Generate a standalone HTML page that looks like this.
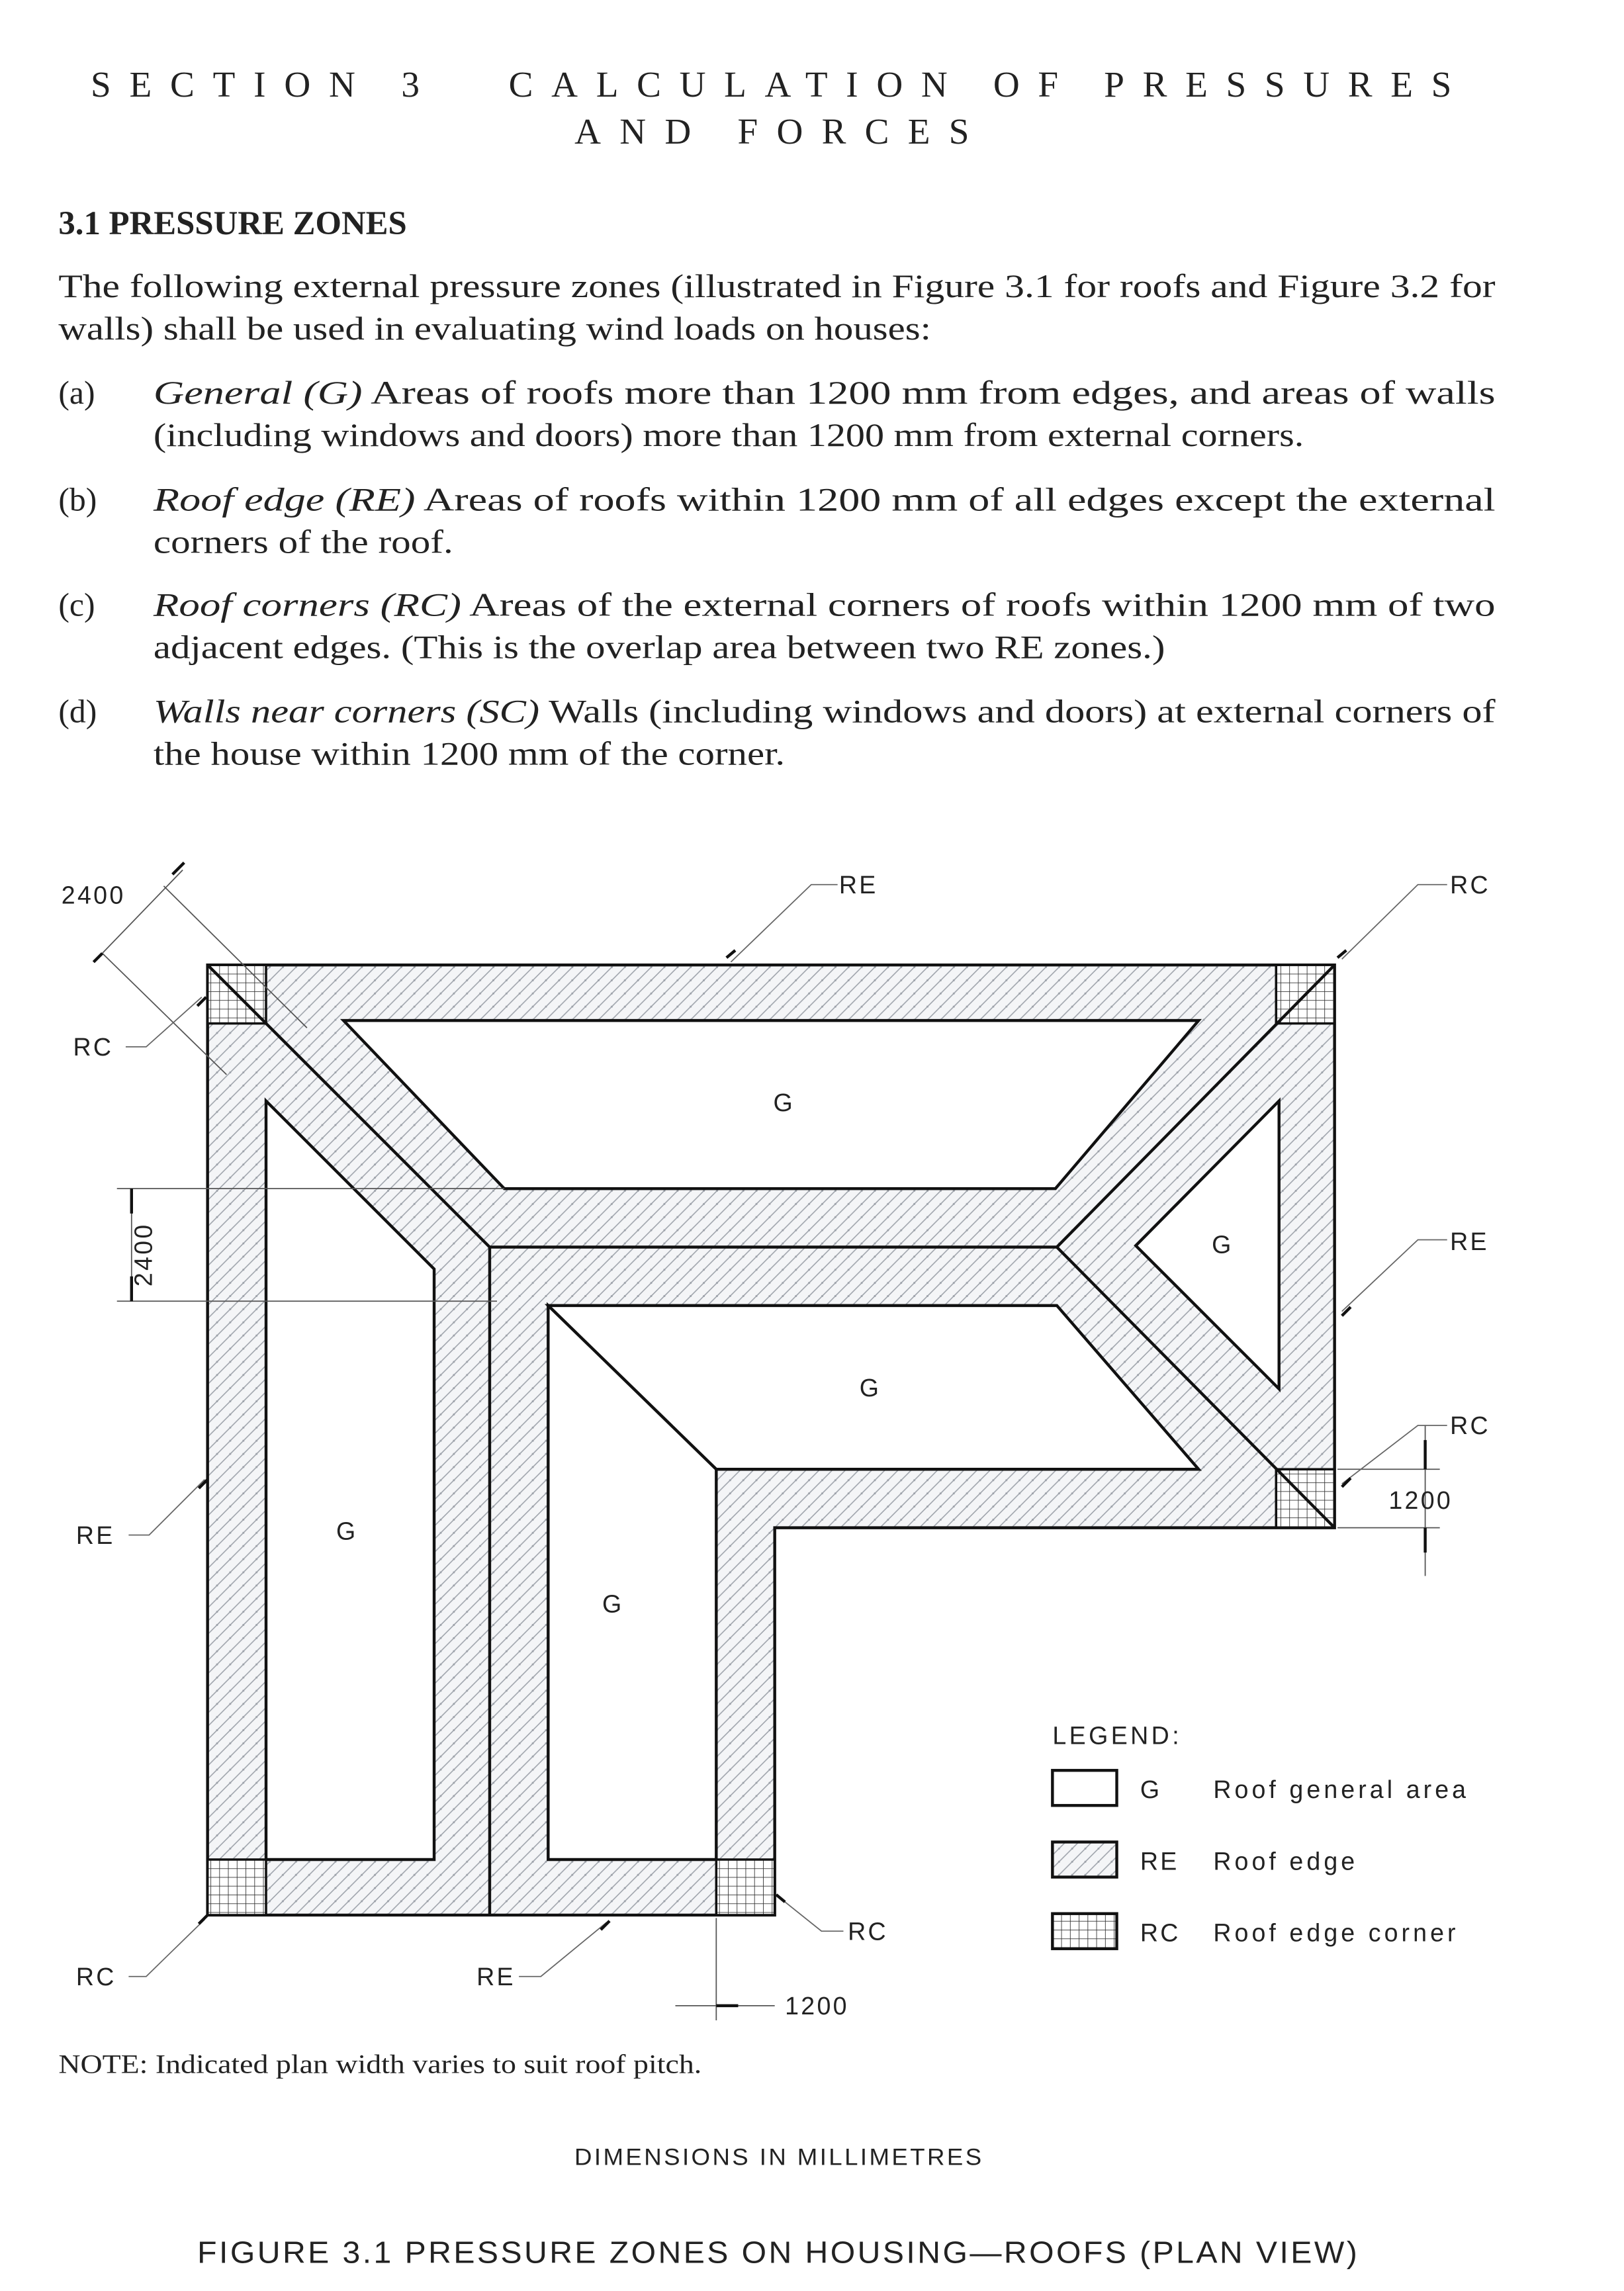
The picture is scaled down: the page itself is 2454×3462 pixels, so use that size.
<!DOCTYPE html>
<html><head><meta charset="utf-8"><style>
html,body{margin:0;padding:0;background:#fff}
svg{display:block}
</style></head><body>
<svg width="2454" height="3462" viewBox="0 0 1111 1567" xmlns="http://www.w3.org/2000/svg">
<defs>
<pattern id="h" width="9" height="9" patternUnits="userSpaceOnUse">
<rect width="9" height="9" fill="#f4f5f7"/>
<path d="M-2,11 L11,-2 M-2,2 L2,-2 M7,11 L11,7" stroke="#9ea3ab" stroke-width="0.7"/>
<circle cx="4.5" cy="4.5" r="0.7" fill="#9ea3ab"/>
</pattern>
<pattern id="g" width="6" height="6" patternUnits="userSpaceOnUse">
<rect width="6" height="6" fill="#fff"/>
<path d="M0,0 H6 M0,0 V6" stroke="#333" stroke-width="0.8"/>
</pattern>
</defs>
<g font-family="Liberation Serif, serif" fill="#222">
<text x="62" y="66" font-size="25" textLength="225" lengthAdjust="spacing">SECTION 3</text>
<text x="348" y="66" font-size="25" textLength="645" lengthAdjust="spacing">CALCULATION OF PRESSURES</text>
<text x="393" y="98" font-size="25" textLength="270" lengthAdjust="spacing">AND FORCES</text>
<text x="40" y="160" font-size="23" font-weight="bold">3.1  PRESSURE ZONES</text>
<g font-size="22.5">
<text x="40" y="203" textLength="983" lengthAdjust="spacingAndGlyphs">The following external pressure zones (illustrated in Figure 3.1 for roofs and Figure 3.2 for</text>
<text x="40" y="232" textLength="597" lengthAdjust="spacingAndGlyphs">walls) shall be used in evaluating wind loads on houses:</text>
<text x="40" y="276">(a)</text><text x="105" y="276" textLength="918" lengthAdjust="spacingAndGlyphs"><tspan font-style="italic">General (G)</tspan>  Areas of roofs more than 1200 mm from edges, and areas of walls</text>
<text x="105" y="305" textLength="787" lengthAdjust="spacingAndGlyphs">(including windows and doors) more than 1200 mm from external corners.</text>
<text x="40" y="349">(b)</text><text x="105" y="349" textLength="918" lengthAdjust="spacingAndGlyphs"><tspan font-style="italic">Roof edge (RE)</tspan>  Areas of roofs within 1200 mm of all edges except the external</text>
<text x="105" y="378" textLength="205" lengthAdjust="spacingAndGlyphs">corners of the roof.</text>
<text x="40" y="421">(c)</text><text x="105" y="421" textLength="918" lengthAdjust="spacingAndGlyphs"><tspan font-style="italic">Roof corners (RC)</tspan>  Areas of the external corners of roofs within 1200 mm of two</text>
<text x="105" y="450" textLength="692" lengthAdjust="spacingAndGlyphs">adjacent edges. (This is the overlap area between two RE zones.)</text>
<text x="40" y="494">(d)</text><text x="105" y="494" textLength="918" lengthAdjust="spacingAndGlyphs"><tspan font-style="italic">Walls near corners (SC)</tspan>  Walls (including windows and doors) at external corners of</text>
<text x="105" y="523" textLength="432" lengthAdjust="spacingAndGlyphs">the house within 1200 mm of the corner.</text>
</g>
<text x="40" y="1418" font-size="18" textLength="440" lengthAdjust="spacingAndGlyphs">NOTE:  Indicated plan width varies to suit roof pitch.</text>
</g>

<!-- roof -->
<polygon points="142,660 913,660 913,1045 530,1045 530,1310 142,1310" fill="url(#h)" stroke="#111" stroke-width="2"/>
<g fill="#fff" stroke="#111" stroke-width="2">
<polygon points="235,698 820,698 722,813 345,813"/>
<polygon points="875,753 875,950 777,852"/>
<polygon points="375,893 723,893 820,1005 490,1005"/>
<polygon points="375,893 490,1005 490,1272 375,1272"/>
<polygon points="182,753 297,868 297,1272 182,1272"/>
</g>
<g fill="url(#g)" stroke="#111" stroke-width="1.6">
<rect x="142" y="660" width="40" height="40"/>
<rect x="873" y="660" width="40" height="40"/>
<rect x="873" y="1005" width="40" height="40"/>
<rect x="142" y="1272" width="40" height="38"/>
<rect x="490" y="1272" width="40" height="38"/>
</g>
<g stroke="#111" stroke-width="2" fill="none">
<path d="M142,660 L335,853 L723,853 L913,660 M723,853 L913,1045 M335,853 V1310"/>
</g>

<!-- dimensions -->
<g stroke="#555" stroke-width="0.8" fill="none">
<path d="M70,652 L125,595 M112,606 L210,703 M70,652 L155,735"/>
<path d="M80,813 H345 M80,890 H340 M90,813 V890"/>
<path d="M915,1005 H985 M915,1045 H985 M975,975 V1078"/>
<path d="M490,1312 V1382 M462,1372 H530"/>
</g>
<g stroke="#111" stroke-width="2">
<path d="M118,598 L126,590 M70,652 L64,658 M90,813 V830 M90,873 V890 M975,985 V1005 M975,1045 V1062 M490,1372 H505"/>
</g>
<!-- leaders -->
<g stroke="#666" stroke-width="0.8" fill="none">
<path d="M573,605 H555 L500,658"/>
<path d="M990,605 H970 L918,656"/>
<path d="M86,716 H100 L138,682"/>
<path d="M990,848 H970 L918,897"/>
<path d="M990,975 H970 L918,1015"/>
<path d="M88,1050 H102 L140,1012"/>
<path d="M88,1352 H100 L140,1313"/>
<path d="M355,1352 H370 L415,1315"/>
<path d="M577,1321 H562 L532,1297"/>
</g>
<g stroke="#111" stroke-width="2">
<path d="M497,655 L503,650 M915,655 L921,650 M135,688 L141,682 M918,900 L924,894 M918,1017 L924,1011 M136,1018 L142,1012 M136,1316 L142,1310 M411,1320 L417,1314 M531,1296 L537,1301"/>
</g>

<g font-family="Liberation Sans, sans-serif" font-size="17" fill="#222" letter-spacing="1.5">
<text x="42" y="618">2400</text>
<text x="574" y="611">RE</text>
<text x="992" y="611">RC</text>
<text x="50" y="722">RC</text>
<text x="992" y="855">RE</text>
<text x="992" y="981">RC</text>
<text x="950" y="1032">1200</text>
<text x="52" y="1056">RE</text>
<text x="52" y="1358">RC</text>
<text x="326" y="1358">RE</text>
<text x="580" y="1327">RC</text>
<text x="537" y="1378">1200</text>
<text transform="translate(104,880) rotate(-90)">2400</text>
<text x="529" y="760">G</text>
<text x="829" y="857">G</text>
<text x="588" y="955">G</text>
<text x="230" y="1053">G</text>
<text x="412" y="1103">G</text>
<text x="720" y="1193" letter-spacing="2">LEGEND:</text>
<text x="780" y="1230">G</text><text x="830" y="1230" letter-spacing="2.3">Roof general area</text>
<text x="780" y="1279">RE</text><text x="830" y="1279" letter-spacing="2.3">Roof edge</text>
<text x="780" y="1328">RC</text><text x="830" y="1328" letter-spacing="2.3">Roof edge  corner</text>
<text x="393" y="1481" font-size="16" textLength="280" lengthAdjust="spacingAndGlyphs">DIMENSIONS IN MILLIMETRES</text>
<text x="135" y="1548" font-size="21" textLength="795" lengthAdjust="spacingAndGlyphs">FIGURE  3.1   PRESSURE ZONES ON HOUSING—ROOFS (PLAN VIEW)</text>
</g>
<rect x="720" y="1211" width="44" height="24" fill="#fff" stroke="#111" stroke-width="2"/>
<rect x="720" y="1260" width="44" height="24" fill="url(#h)" stroke="#111" stroke-width="2"/>
<rect x="720" y="1309" width="44" height="24" fill="url(#g)" stroke="#111" stroke-width="2"/>
</svg>
</body></html>
